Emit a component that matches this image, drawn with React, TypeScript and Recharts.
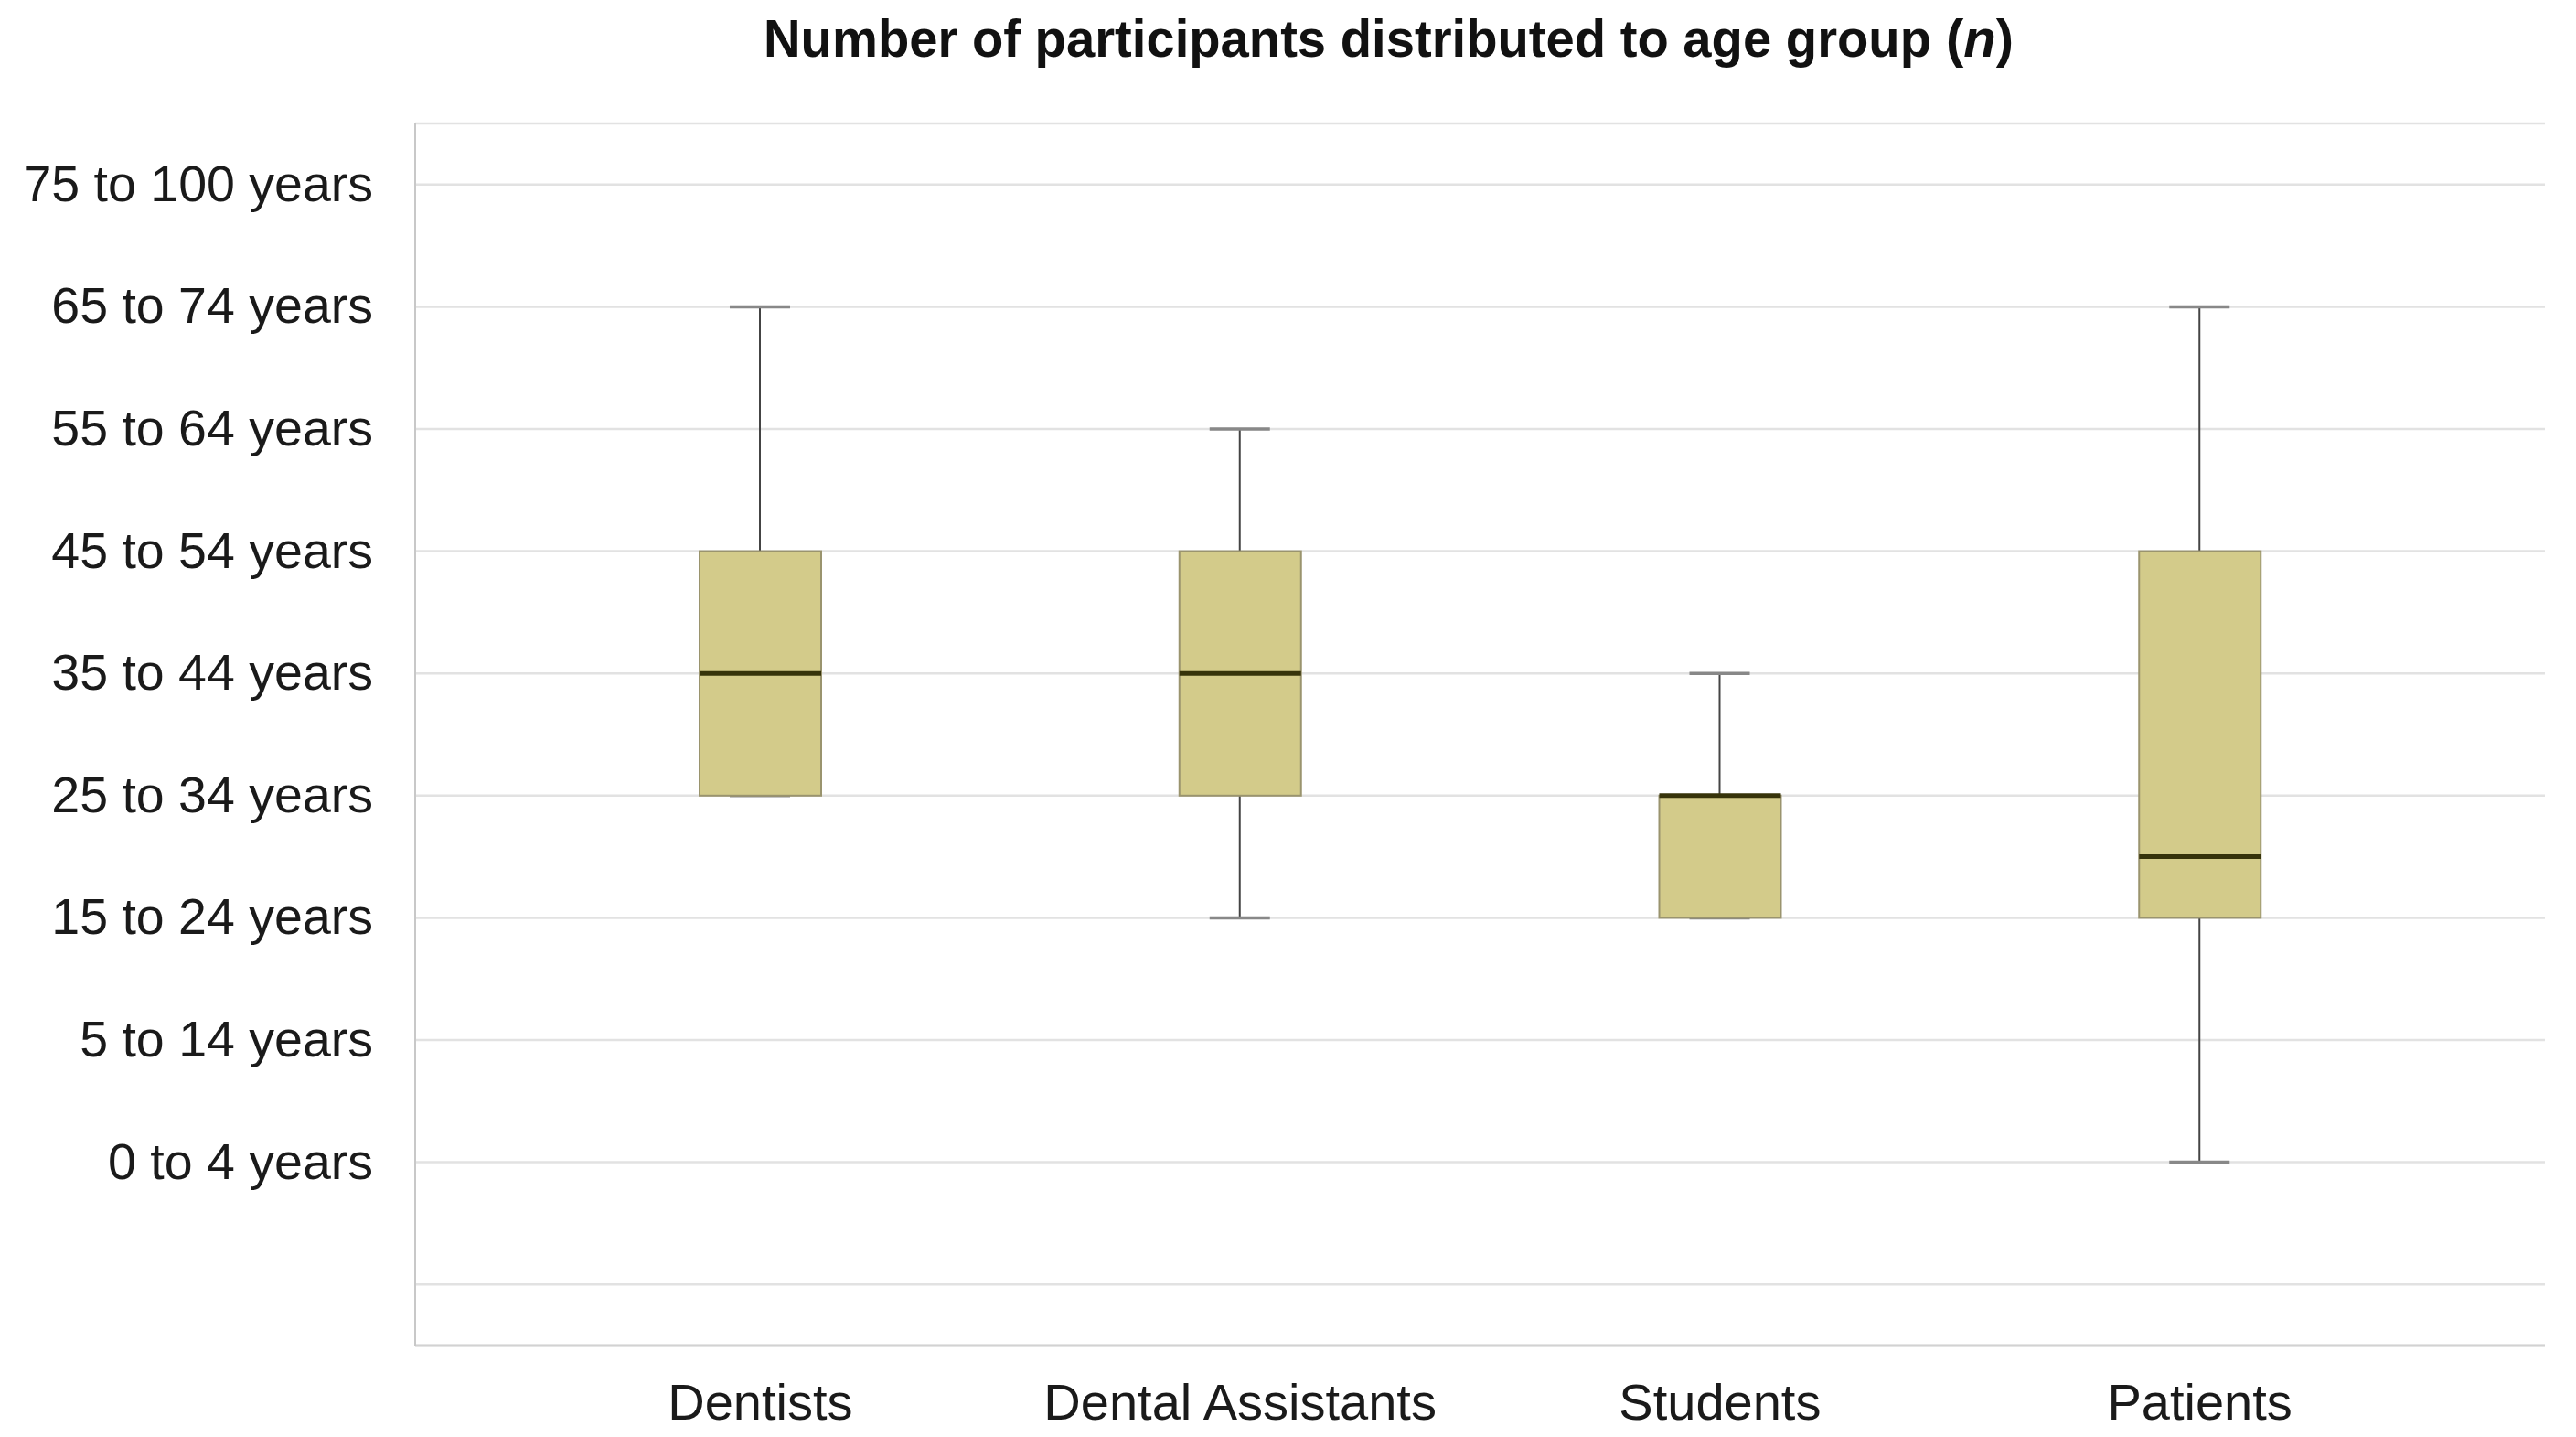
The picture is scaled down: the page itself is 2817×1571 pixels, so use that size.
import React from "react";
import {
  ComposedChart,
  Bar,
  XAxis,
  YAxis,
  CartesianGrid,
} from "recharts";

// age groups are coded by position: 0 = "0 to 4 years" ... 8 = "75 to 100 years"
const AGE_LABELS = [
  "0 to 4 years",
  "5 to 14 years",
  "15 to 24 years",
  "25 to 34 years",
  "35 to 44 years",
  "45 to 54 years",
  "55 to 64 years",
  "65 to 74 years",
  "75 to 100 years",
];
const GROUPS = ["Dentists", "Dental Assistants", "Students", "Patients"];
const MINS = [3, 2, 2, 0];
const Q1S = [3, 3, 2, 2];
const MEDIANS = [4, 4, 3, 2.5];
const Q3S = [5, 5, 3, 5];
const MAXS = [7, 6, 4, 7];
// one empty row below "0 to 4 years"
const Y_TICKS = [-1, ...AGE_LABELS.map((_, i) => i)];

const data = GROUPS.map((name, i) => ({
  name,
  whisker: [MINS[i], MAXS[i]],
  box: [Q1S[i], Q3S[i]],
  lower: [Q1S[i], MEDIANS[i]],
}));

const FONT = "'Liberation Sans', Arial, sans-serif";
const BOX_FILL = "#D3CB8A";
const BOX_STROKE = "#9A946E";
const MEDIAN_COLOR = "#36330A";
const WHISKER_COLOR = "#444444";
const CAP_COLOR = "#888888";
const PAD = { left: 115, right: 115 };

const WhiskerShape = (props: any) => {
  const { x, y, width, height } = props;
  const top = Math.min(y, y + height);
  const bottom = Math.max(y, y + height);
  const cx = x + width / 2;
  return (
    <g>
      <line x1={cx} x2={cx} y1={top} y2={bottom} stroke={WHISKER_COLOR} strokeWidth={2} />
      <line x1={x} x2={x + width} y1={top} y2={top} stroke={CAP_COLOR} strokeWidth={3.5} />
      <line x1={x} x2={x + width} y1={bottom} y2={bottom} stroke={CAP_COLOR} strokeWidth={3.5} />
    </g>
  );
};

const BoxShape = (props: any) => {
  const { x, y, width, height } = props;
  const top = Math.min(y, y + height);
  return (
    <rect
      x={x}
      y={top}
      width={width}
      height={Math.abs(height)}
      fill={BOX_FILL}
      stroke={BOX_STROKE}
      strokeWidth={2}
    />
  );
};

// only the upper edge of the lower half is drawn: that is the median
const MedianShape = (props: any) => {
  const { x, y, width, height } = props;
  const top = Math.min(y, y + height);
  return <line x1={x} x2={x + width} y1={top} y2={top} stroke={MEDIAN_COLOR} strokeWidth={5} />;
};

const AgeTick = (props: any) => {
  const { x, y, payload } = props;
  const v = payload.value;
  return (
    <text x={x} y={y} dy={18} textAnchor="end" fontFamily={FONT} fontSize={55.5} fill="#1a1a1a">
      {v >= 0 ? AGE_LABELS[v] : ""}
    </text>
  );
};

const titleStyle = { fontFamily: FONT, fontWeight: "bold" as const, fontSize: 58, fill: "#111" };

const App = () => {
  return (
    <div style={{ position: "absolute", left: 0, top: 0, width: 2817, height: 1571, background: "#fff" }}>
      <svg width={2817} height={120} style={{ position: "absolute", left: 0, top: 0 }}>
        <text x={835} y={62} textLength={1277} lengthAdjust="spacingAndGlyphs" {...titleStyle}>
          Number of participants distributed to age group
        </text>
        <text x={2128} y={62} {...titleStyle}>
          (<tspan fontStyle="italic">n</tspan>)
        </text>
      </svg>
      <ComposedChart
        width={2817}
        height={1571}
        data={data}
        margin={{ top: 135, right: 34, bottom: 0, left: 0 }}
        style={{ position: "absolute", left: 0, top: 0 }}
      >
        <CartesianGrid vertical={false} stroke="#E2E2E2" strokeWidth={2.5} />
        <XAxis
          dataKey="name"
          height={100}
          padding={PAD}
          tickLine={false}
          tickSize={0}
          tickMargin={41}
          axisLine={{ stroke: "#D2D2D2", strokeWidth: 3 }}
          tick={{ fontFamily: FONT, fontSize: 56, fill: "#1a1a1a" }}
        />
        <XAxis xAxisId="w" dataKey="name" hide padding={PAD} />
        <XAxis xAxisId="m" dataKey="name" hide padding={PAD} />
        <YAxis
          type="number"
          domain={[-1.5, 8.5]}
          ticks={Y_TICKS}
          width={454}
          tickLine={false}
          tickSize={0}
          tickMargin={46}
          axisLine={{ stroke: "#C8C8C8", strokeWidth: 2 }}
          tick={AgeTick}
        />
        <Bar
          xAxisId="w"
          dataKey="whisker"
          barSize={66}
          shape={WhiskerShape}
          isAnimationActive={false}
        />
        <Bar dataKey="box" barSize={133} shape={BoxShape} isAnimationActive={false} />
        <Bar
          xAxisId="m"
          dataKey="lower"
          barSize={133}
          shape={MedianShape}
          isAnimationActive={false}
        />
      </ComposedChart>
    </div>
  );
};

export default App;
